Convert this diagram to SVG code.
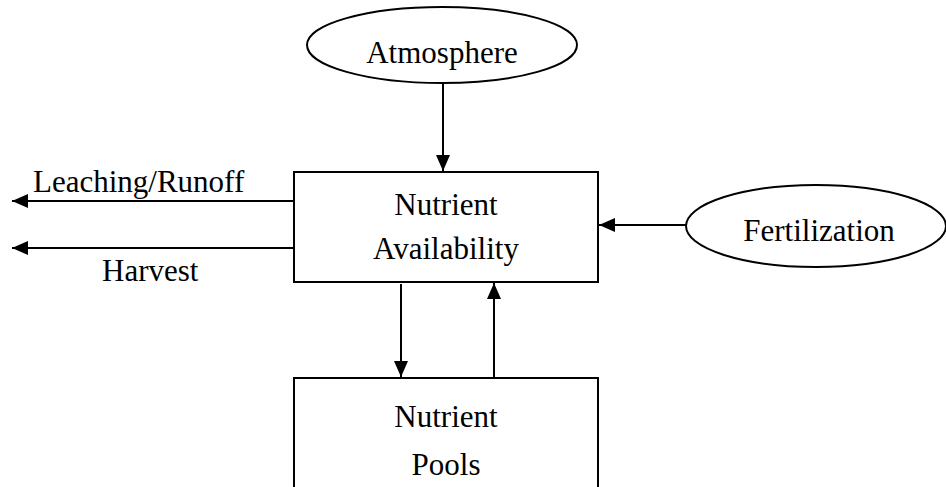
<svg xmlns="http://www.w3.org/2000/svg" width="946" height="487" viewBox="0 0 946 487">
<style>
.shape{fill:#fff;stroke:#000;stroke-width:2}
.t{font-family:"Liberation Serif","Times New Roman",serif;font-size:31px;fill:#000}
.c{text-anchor:middle}
.ln{stroke:#000;stroke-width:2;fill:none}
</style>
<defs>
<marker id="ah" viewBox="0 0 16 14" refX="16" refY="7" markerWidth="16" markerHeight="14" markerUnits="userSpaceOnUse" orient="auto">
<path d="M0,0 L16,7 L0,14 Z" fill="#000"/>
</marker>
</defs>
<rect width="946" height="487" fill="#fff"/>
<g id="atmosphere">
<ellipse class="shape" cx="442" cy="45" rx="135" ry="38"/>
<text class="t c" x="442" y="63">Atmosphere</text>
</g>
<g id="availability">
<rect class="shape" x="294" y="172" width="304" height="110"/>
<text class="t c" x="446" y="215">Nutrient</text>
<text class="t c" x="446" y="259">Availability</text>
</g>
<g id="fertilization">
<ellipse class="shape" cx="816" cy="226" rx="130" ry="41"/>
<text class="t c" x="819" y="241">Fertilization</text>
</g>
<g id="pools">
<rect class="shape" x="294" y="378" width="304" height="120"/>
<text class="t c" x="446" y="427">Nutrient</text>
<text class="t c" x="446" y="475">Pools</text>
</g>
<g id="connectors">
<line class="ln" x1="443" y1="83" x2="443" y2="171" marker-end="url(#ah)"/>
<line class="ln" x1="294" y1="201" x2="12" y2="201" marker-end="url(#ah)"/>
<line class="ln" x1="294" y1="248" x2="12" y2="248" marker-end="url(#ah)"/>
<line class="ln" x1="686" y1="225" x2="599" y2="225" marker-end="url(#ah)"/>
<line class="ln" x1="401" y1="284" x2="401" y2="377" marker-end="url(#ah)"/>
<line class="ln" x1="494" y1="378" x2="494" y2="283" marker-end="url(#ah)"/>
</g>
<g id="labels">
<text class="t" x="33" y="192">Leaching/Runoff</text>
<text class="t" x="102" y="281">Harvest</text>
</g>
</svg>
